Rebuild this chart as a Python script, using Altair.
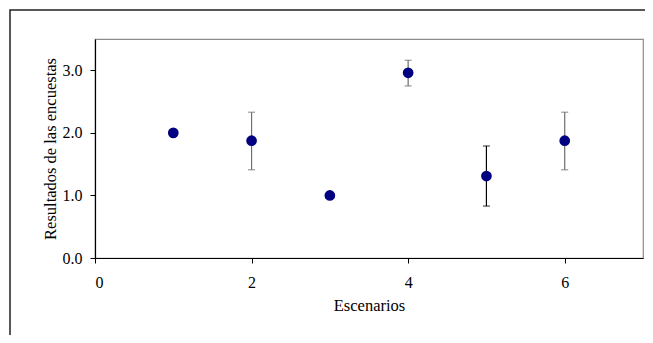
import altair as alt
import pandas as pd

# Data
escenarios = [1, 2, 3, 4, 5, 6]
resultados = [2.0, 1.875, 1.0, 2.96, 1.31, 1.875]

err_x = [2, 4, 5, 6]
err_lo = [1.41, 2.75, 0.83, 1.41]
err_hi = [2.33, 3.16, 1.79, 2.33]
err_tone = ["gris", "gris", "negro", "gris"]

x_ticks = [0, 2, 4, 6]
y_ticks = [0, 1, 2, 3]

df = pd.DataFrame({"x": escenarios, "y": resultados})
edf = pd.DataFrame({"x": err_x, "lo": err_lo, "hi": err_hi, "tone": err_tone})
frame_df = pd.DataFrame({"k": [0]})

FONT = "Liberation Serif"

xs = alt.Scale(domain=[0, 7], nice=False, zero=False)
ys = alt.Scale(domain=[0, 3.5], nice=False)

xaxis = alt.Axis(values=x_ticks, format="d", title="Escenarios", grid=False,
                 tickSize=5, labelPadding=11, titlePadding=7)
yaxis = alt.Axis(values=y_ticks, format=".1f", title="Resultados de las encuestas",
                 grid=False, tickSize=5, labelPadding=8, titlePadding=4)

tone_color = alt.Color("tone:N",
                       scale=alt.Scale(domain=["gris", "negro"], range=["#6e6e6e", "#000000"]),
                       legend=None)

frame = alt.Chart(frame_df).mark_rect(
    fillOpacity=0, stroke="#222222", strokeWidth=1.5, clip=False
).encode(
    x=alt.value(-85), x2=alt.value(720), y=alt.value(-29), y2=alt.value(420)
)

rules = alt.Chart(edf).mark_rule(strokeWidth=1.2).encode(
    x=alt.X("x:Q", scale=xs, axis=xaxis),
    y=alt.Y("lo:Q", scale=ys, axis=yaxis),
    y2="hi:Q",
    color=tone_color,
)

caps_lo = alt.Chart(edf).mark_tick(orient="horizontal", size=7, thickness=1.2).encode(
    x=alt.X("x:Q", scale=xs), y=alt.Y("lo:Q", scale=ys), color=tone_color
)
caps_hi = alt.Chart(edf).mark_tick(orient="horizontal", size=7, thickness=1.2).encode(
    x=alt.X("x:Q", scale=xs), y=alt.Y("hi:Q", scale=ys), color=tone_color
)

points = alt.Chart(df).mark_point(
    filled=True, shape="circle", size=115, color="#000080", opacity=1
).encode(
    x=alt.X("x:Q", scale=xs), y=alt.Y("y:Q", scale=ys)
)

chart = alt.layer(frame, rules, caps_lo, caps_hi, points).properties(
    width=548, height=219,
    background="white",
    autosize=alt.AutoSizeParams(type="none"),
    padding={"left": 87, "top": 31, "right": 2, "bottom": 77},
).configure_view(
    stroke="#8c8c8c", strokeWidth=1.2
).configure_axis(
    domainColor="#000000", domainWidth=1.2, tickColor="#000000",
    labelFont=FONT, labelFontSize=16, labelColor="#000000",
    titleFont=FONT, titleFontSize=16.5, titleFontWeight="normal", titleColor="#000000",
)

chart.save("out.html", embed_options={"renderer": "svg", "actions": False})
